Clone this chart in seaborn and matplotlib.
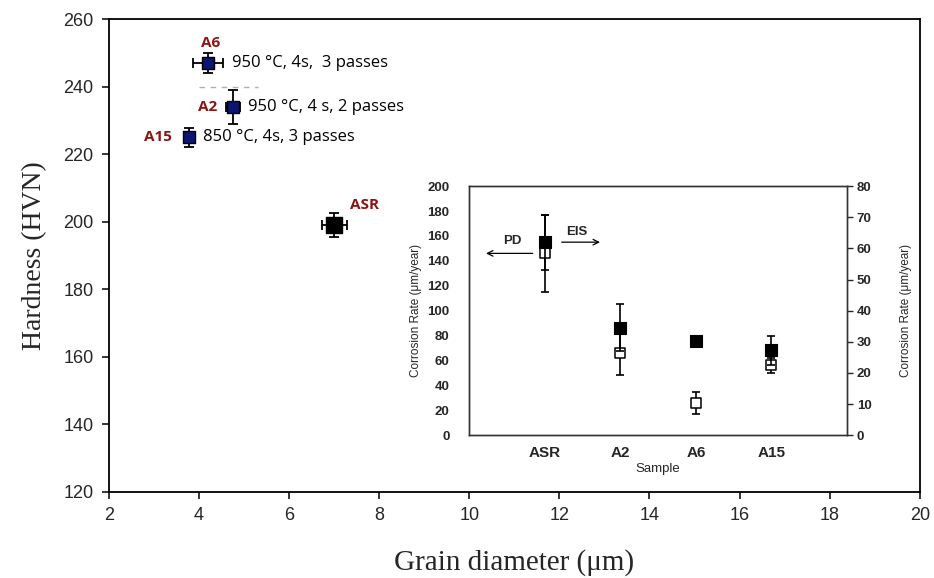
import numpy as np
import pandas as pd
import matplotlib
matplotlib.use("Agg")
import matplotlib.pyplot as plt
import seaborn as sns

# ---- main chart data ----
samples = ["A6", "A2", "A15", "ASR"]
grain = [4.2, 4.75, 3.78, 7.0]
grain_err = [0.33, 0.15, 0.1, 0.28]
hardness = [247, 234, 225, 199]
hard_err = [3, 5, 2.8, 3.5]
conditions = ["950 °C, 4s,  3 passes", "950 °C, 4 s, 2 passes", "850 °C, 4s, 3 passes", ""]

# ---- inset data ----
inset_samples = ["ASR", "A2", "A6", "A15"]
pd_rate = [146, 66, 26, 56]          # open squares, left axis (µm/year)
pd_err = [31, 18, 9, 6]
eis_rate = [62, 34.5, 30.2, 27.3]    # solid squares, right axis (µm/year)
eis_err = [8.8, 7.6, 0.6, 4.7]

xticks_main = [2, 4, 6, 8, 10, 12, 14, 16, 18, 20]
yticks_main = [120, 140, 160, 180, 200, 220, 240, 260]

sns.set_style("ticks")
plt.rcParams["font.family"] = ["Liberation Sans", "DejaVu Sans"]

fig = plt.figure(figsize=(9.34, 5.78), dpi=100)
ax = fig.add_axes([0.1167, 0.1488, 0.868, 0.818])

df = pd.DataFrame({"sample": samples, "grain": grain, "hardness": hardness})
ax.errorbar(grain, hardness, xerr=grain_err, yerr=hard_err, fmt="none",
            ecolor="black", elinewidth=1.3, capsize=3.5, capthick=1.3, zorder=2)
colors = {"A6": "#0b1670", "A2": "#0b1670", "A15": "#0b1670", "ASR": "black"}
sizes = {"A6": 75, "A2": 75, "A15": 75, "ASR": 130}
sns.scatterplot(data=df, x="grain", y="hardness", hue="sample", palette=colors,
                size="sample", sizes=sizes, marker="s", edgecolor="black",
                linewidth=1.0, legend=False, ax=ax, zorder=3)

ax.plot([4.0, 5.3], [240, 240], ls=(0, (4, 4)), color="#b0b0b0", lw=1, zorder=1)

ax.set_xlim(2, 20)
ax.set_ylim(120, 260)
ax.set_xticks(xticks_main)
ax.set_yticks(yticks_main)
for s in ax.spines.values():
    s.set_linewidth(1.3)
    s.set_color("black")
ax.tick_params(labelsize=13, width=1.3, length=5, pad=6)
ax.set_xlabel("Grain diameter (μm)", family=["Liberation Serif"], fontsize=21, labelpad=18)
ax.set_ylabel("Hardness (HVN)", family=["Liberation Serif"], fontsize=20, labelpad=12)

# labels
red = "#8b1414"
label_pos = {"A6": (4.26, 252.9, "center"), "A2": (4.4, 234, "right"),
             "A15": (3.4, 225, "right"), "ASR": (7.68, 205, "center")}
for s in samples:
    x, y, ha = label_pos[s]
    ax.text(x, y, s, color=red, fontweight="bold", fontsize=11, ha=ha, va="center",
            family=["Open Sans", "DejaVu Sans"])
cond_x = [4.73, 5.08, 4.09]
for i in range(3):
    ax.text(cond_x[i], hardness[i], conditions[i], fontsize=12, ha="left", va="center",
            family=["Open Sans", "DejaVu Sans"], color="black")

# ---- inset ----
ins = fig.add_axes([0.502, 0.247, 0.405, 0.431])
ins2 = ins.twinx()
xpos = np.arange(1, len(inset_samples) + 1)
idf = pd.DataFrame({"x": xpos, "pd": pd_rate, "eis": eis_rate})

ins.errorbar(xpos, pd_rate, yerr=pd_err, fmt="none", ecolor="black", elinewidth=1.2,
             capsize=3, capthick=1.2, zorder=2)
sns.scatterplot(data=idf, x="x", y="pd", marker="s", s=55, facecolor="white",
                edgecolor="black", linewidth=1.1, ax=ins, zorder=3, legend=False)
ins2.errorbar(xpos, eis_rate, yerr=eis_err, fmt="none", ecolor="black", elinewidth=1.2,
              capsize=3, capthick=1.2, zorder=2)
sns.scatterplot(data=idf, x="x", y="eis", marker="s", s=70, color="black",
                edgecolor="black", linewidth=0.8, ax=ins2, zorder=3, legend=False)

ins.set_xlim(0, 5)
ins.set_ylim(0, 200)
ins2.set_ylim(0, 80)
ins.set_xticks(xpos)
ins.set_xticklabels(inset_samples, fontsize=11, fontweight="bold")
ins.set_yticks(np.arange(0, 201, 20))
ins2.set_yticks(np.arange(0, 81, 10))
ins.tick_params(axis="y", labelsize=9.5, length=0, pad=14)
ins.tick_params(axis="x", length=0, pad=8)
ins2.tick_params(axis="y", labelsize=9.5, length=4, width=1, pad=3)
for lab in ins.get_yticklabels() + ins2.get_yticklabels():
    lab.set_fontweight("bold")
ins.set_xlabel("Sample", fontsize=9.5, labelpad=2)
ins.set_ylabel("Corrosion Rate (μm/year)", fontsize=8.5, labelpad=4)
ins2.set_ylabel("Corrosion Rate (μm/year)", fontsize=8.5, labelpad=20)
for a in (ins, ins2):
    for s in a.spines.values():
        s.set_linewidth(1.0)
        s.set_color("#333333")

ins.annotate("", xy=(0.19, 146), xytext=(0.88, 146),
             arrowprops=dict(arrowstyle="->", color="black", lw=0.9))
ins.text(0.57, 151, "PD", fontsize=9.5, fontweight="bold", ha="center", va="bottom")
ins.annotate("", xy=(1.77, 155), xytext=(1.19, 155),
             arrowprops=dict(arrowstyle="->", color="black", lw=0.9))
ins.text(1.43, 158, "EIS", fontsize=9.5, fontweight="bold", ha="center", va="bottom")

fig.savefig("out.png", dpi=100)
